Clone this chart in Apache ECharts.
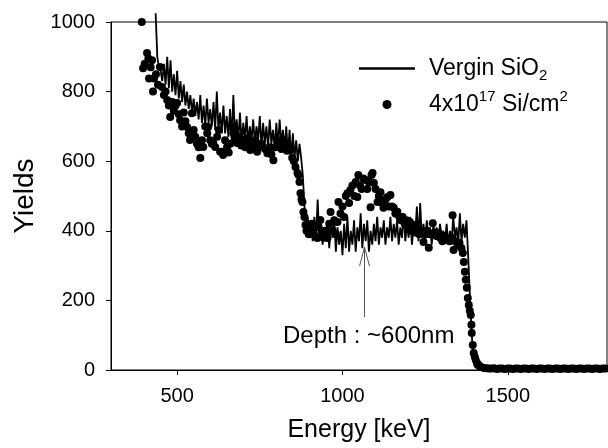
<!DOCTYPE html>
<html><head><meta charset="utf-8">
<script src="https://cdn.jsdelivr.net/npm/echarts@6/dist/echarts.min.js"></script>
<style>html,body{margin:0;padding:0;background:#fff}#c{width:608px;height:448px}</style>
</head><body><div id="c"></div>
<script>
// ---- axis ticks ----
const xTicks = [500, 1000, 1500];
const yTicks = [0, 200, 400, 600, 800, 1000];

// ---- series 1: Vergin SiO2 (line) ----
const lineEnergy = [
 435,440,445,450,455,460,465,470,475,480,
 485,490,495,500,505,510,515,520,525,530,
 535,540,545,550,555,560,565,570,575,580,
 585,590,595,600,605,610,615,620,625,630,
 635,640,645,650,655,660,665,670,675,680,
 685,690,695,700,705,710,715,720,725,730,
 735,740,745,750,755,760,765,770,775,780,
 785,790,795,800,805,810,815,820,825,830,
 835,840,845,850,855,860,865,870,875,880,
 885,890,895,900,905,910,915,920,925,930,
 935,940,945,950,955,960,965,970,975,980,
 985,990,995,1000,1005,1010,1015,1020,1025,1030,
 1035,1040,1045,1050,1055,1060,1065,1070,1075,1080,
 1085,1090,1095,1100,1105,1110,1115,1120,1125,1130,
 1135,1140,1145,1150,1155,1160,1165,1170,1175,1180,
 1185,1190,1195,1200,1205,1210,1215,1220,1225,1230,
 1235,1240,1245,1250,1255,1260,1265,1270,1275,1280,
 1285,1290,1295,1300,1305,1310,1315,1320,1325,1330,
 1335,1340,1345,1350,1355,1360,1365,1370,1375,1380,
 1385,1390,1395,1400,
 1410,1430,1460,1500,1550,1600,1650,1700,1750,1800
];
const lineYield = [
 1025,900,870,860,830,880,820,900,810,890,
 800,850,790,860,780,830,770,820,760,800,
 750,790,740,780,730,770,720,790,710,760,
 700,780,710,750,700,770,690,800,690,740,
 680,760,680,730,670,750,660,790,670,720,
 660,740,650,710,660,730,650,700,660,720,
 650,700,660,730,640,710,650,700,640,720,
 650,690,640,710,640,720,650,690,630,700,
 620,690,610,680,610,660,600,650,610,560,
 470,420,440,380,420,370,440,380,490,370,
 420,360,410,370,430,350,420,380,440,340,
 410,360,400,330,420,350,440,340,400,360,
 430,340,410,370,450,350,420,370,430,340,
 400,360,420,370,440,360,410,380,430,360,
 410,380,440,370,420,380,430,360,410,380,
 450,370,420,380,440,360,410,390,470,370,
 480,380,420,370,430,380,410,360,420,380,
 410,370,420,380,400,370,420,360,400,370,
 440,380,410,360,450,370,420,380,430,330,
 220,120,40,10,
 3,2,2,1,2,1,2,1,2,1
];

// ---- series 2: 4x10^17 Si/cm^2 (dots) ----
const dotEnergy = [
 393,397,402,409,413,415,420,424,427,430,
 436,442,448,454,460,465,470,475,479,485,
 490,495,500,505,509,515,520,525,530,535,
 539,545,550,555,560,565,570,575,579,585,
 591,594,600,605,609,615,621,626,630,636,
 639,645,651,656,661,665,670,676,682,688,
 694,700,706,712,716,721,726,730,736,742,
 748,754,760,766,773,780,785,791,797,803,
 809,815,821,827,832,837,842,848,853,858,
 864,867,870,873,876,879,882,885,888,891,
 894,898,903,907,912,918,924,928,933,938,
 943,948,955,960,964,970,975,980,985,988,
 994,1000,1005,1010,1015,1020,1024,1030,1036,1040,
 1045,1048,1053,1058,1063,1070,1075,1080,1085,1088,
 1091,1095,1100,1106,1110,1115,1120,1124,1130,1136,
 1140,1145,1150,1155,1160,1166,1172,1177,1182,1188,
 1193,1198,1204,1210,1215,1220,1226,1232,1238,1245,
 1250,1255,1261,1266,1273,1278,1284,1291,1296,1302,
 1308,1313,1318,1324,1330,1333,1336,1342,1348,1354,
 1360,1364,1367,1370,1373,1376,1379,1382,1385,1388,
 1390,1391,1394,1397,1400,1403,1407,1412,1418,1427,
 1435,1443,1451,1459,1467,1475,1483,1491,1499,1507,
 1515,1523,1531,1539,1547,1555,1563,1571,1579,1587,
 1595,1603,1611,1619,1627,1635,1643,1651,1659,1667,
 1675,1683,1691,1699,1707,1715,1723,1731,1739,1747,
 1755,1763,1771,1779,1787,1795
];
const dotYield = [
 1000,867,880,911,895,838,870,890,800,838,
 850,820,871,813,790,800,776,760,727,770,
 745,760,767,735,718,700,740,715,698,680,
 661,738,690,670,650,640,609,660,641,700,
 680,698,660,650,652,641,670,690,627,627,
 618,660,641,625,650,700,680,660,652,670,
 645,661,640,665,645,632,650,641,660,627,
 645,650,641,635,623,640,620,603,640,661,
 650,635,661,645,630,640,632,610,600,583,
 566,560,540,508,490,483,454,440,417,400,
 411,390,394,420,400,385,379,410,431,395,
 380,400,379,420,454,400,430,390,425,483,
 450,470,440,500,508,480,517,530,500,540,
 497,560,530,520,550,546,520,540,468,560,
 566,537,520,483,500,511,480,466,490,497,
 470,503,470,466,450,455,440,430,440,420,
 430,410,425,400,417,395,410,390,400,368,
 390,400,351,390,422,395,385,394,380,370,
 385,375,374,370,380,445,345,370,360,365,
 350,336,310,282,259,236,207,187,170,158,
 130,106,72,49,38,29,20,14,9,6,
 5,4,4,5,3,4,4,3,4,4,
 3,4,4,3,4,4,3,4,4,3,
 4,4,3,4,4,3,4,4,3,4,
 4,3,4,4,3,4,4,3,4,4,
 3,4,4,3,4,4
];

// ---- annotation ----
const annotText = 'Depth : ~600nm';
const arrowEnergy = 1064;
const arrowFromYield = 152;
const arrowToYield = 353;

const S1 = 'Vergin SiO2';
const S2 = '4x10^17 Si/cm^2';
const FONT = '"Liberation Sans", Arial, Helvetica, sans-serif';
const plain = v => String(v);

const chart = echarts.init(document.getElementById('c'), null, {renderer: 'canvas'});
chart.setOption({
  animation: false,
  backgroundColor: '#fff',
  grid: {left: 111, right: 1, top: 22, bottom: 78, show: true, borderColor: '#000', borderWidth: 1, backgroundColor: 'transparent'},
  xAxis: {
    type: 'value', min: 300, max: 1800,
    name: 'Energy [keV]', nameLocation: 'middle', nameGap: 48,
    nameTextStyle: {fontFamily: FONT, fontSize: 25, color: '#000'},
    axisLine: {show: true, onZero: false, lineStyle: {color: '#000', width: 1}},
    axisTick: {show: true, customValues: xTicks, length: 5, inside: false, lineStyle: {color: '#000'}},
    axisLabel: {customValues: xTicks, formatter: plain, margin: 16, fontFamily: FONT, fontSize: 20, color: '#000'},
    splitLine: {show: false}
  },
  yAxis: {
    type: 'value', min: 0, max: 1000, interval: 200,
    name: 'Yields', nameLocation: 'middle', nameGap: 72,
    nameTextStyle: {fontFamily: FONT, fontSize: 28, color: '#000'},
    axisLine: {show: true, lineStyle: {color: '#000', width: 1}},
    axisTick: {show: true, customValues: yTicks, length: 5, inside: false, lineStyle: {color: '#000'}},
    axisLabel: {customValues: yTicks, formatter: plain, margin: 16, fontFamily: FONT, fontSize: 20, color: '#000'},
    splitLine: {show: false}
  },
  legend: {
    show: true, orient: 'vertical', left: 354, top: 52,
    itemWidth: 56, itemHeight: 9, itemGap: 6,
    data: [
      {name: S1, icon: 'path://M0,0 L56,0 L56,2.6 L0,2.6 Z', itemStyle: {color: '#000'}},
      {name: S2, icon: 'circle', itemStyle: {color: '#000', opacity: 1}}
    ],
    formatter: function (name) {
      return name === S1 ? '{a|Vergin SiO}{sub|2}' : '{a|4x10}{sup|17}{a| Si/cm}{sup|2}';
    },
    textStyle: {
      fontFamily: FONT, fontSize: 23, color: '#000', padding: [0, 0, 0, 9],
      rich: {
        a: {fontFamily: FONT, fontSize: 23, lineHeight: 30, color: '#000'},
        sub: {fontFamily: FONT, fontSize: 15, lineHeight: 15, verticalAlign: 'bottom', color: '#000'},
        sup: {fontFamily: FONT, fontSize: 15, lineHeight: 15, verticalAlign: 'top', color: '#000'}
      }
    }
  },
  series: [
    {
      name: S1, type: 'line', symbol: 'none', showSymbol: false, clip: false,
      data: lineEnergy.map((e, i) => [e, lineYield[i]]),
      lineStyle: {color: '#000', width: 1.8}, itemStyle: {color: '#000'},
      z: 3
    },
    {
      name: S2, type: 'scatter', symbol: 'circle', symbolSize: 8, clip: false,
      data: dotEnergy.map((e, i) => [e, dotYield[i]]),
      itemStyle: {color: '#000', opacity: 1},
      z: 2
    }
  ]
});

const p0 = chart.convertToPixel({gridIndex: 0}, [arrowEnergy, arrowFromYield]);
const p1 = chart.convertToPixel({gridIndex: 0}, [arrowEnergy, arrowToYield]);
const ax = Math.round(p0[0]) + 0.5;
chart.setOption({
  graphic: [
    {type: 'line', shape: {x1: ax, y1: p0[1], x2: ax, y2: p1[1]}, style: {stroke: '#555', lineWidth: 1}, silent: true},
    {type: 'polyline', shape: {points: [[ax - 5, p1[1] + 19], [ax, p1[1]], [ax + 5, p1[1] + 19]]}, style: {stroke: '#555', lineWidth: 1, fill: null}, silent: true},
    {type: 'text', x: 283, y: 336, style: {text: annotText, font: '24px ' + FONT, fill: '#000', verticalAlign: 'middle', align: 'left'}, silent: true}
  ]
});
</script>
</body></html>
